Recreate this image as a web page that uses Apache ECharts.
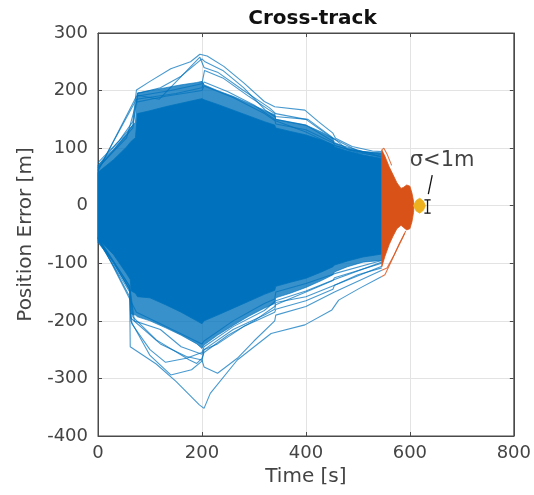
<!DOCTYPE html>
<html><head><meta charset="utf-8">
<script src="https://cdn.jsdelivr.net/npm/echarts@6/dist/echarts.min.js"></script>
<style>html,body{margin:0;padding:0;background:#fff}#c{width:534px;height:495px}</style>
</head><body><div id="c"></div>
<script>
// ---- data ----
const xTicks = [0, 200, 400, 600, 800];
const yTicks = [-400, -300, -200, -100, 0, 100, 200, 300];

// Blue Monte-Carlo runs: envelopes of the dense region
const bandT       = [0, 30, 55, 62, 64, 72, 76, 100, 130, 160, 190, 200, 204, 230, 260, 290, 320, 340, 342, 370, 400, 430, 452, 455, 480, 510, 546];
const denseUpper  = [58, 80, 102, 110, 112, 118, 160, 165, 172, 178, 184, 186, 184, 176, 166, 156, 146, 140, 135, 129, 123, 114, 106, 102, 95, 88, 82];
const denseLower  = [-57, -85, -118, -128, -148, -152, -158, -160, -172, -185, -200, -205, -200, -190, -178, -166, -154, -147, -140, -133, -126, -115, -106, -103, -96, -89, -84];
const spreadUpper = [70, 98, 125, 134, 137, 145, 196, 200, 205, 210, 214, 216, 210, 200, 190, 178, 166, 158, 150, 145, 140, 128, 117, 110, 100, 94, 92];
const spreadLower = [-64, -98, -138, -150, -188, -190, -193, -200, -212, -225, -240, -248, -242, -225, -208, -192, -178, -170, -160, -152, -142, -130, -120, -115, -106, -98, -95];

// Individual outlying blue runs
const runU1T = [0, 40, 67, 74, 100, 140, 178, 196, 210, 242, 281, 320, 340, 398, 424, 452, 457, 489, 528, 546];
const runU1V = [75, 112, 146, 201, 216, 238, 250, 263, 260, 242, 213, 181, 172, 166, 146, 126, 117, 103, 95, 94];
const runU2T = [0, 67, 76, 120, 160, 200, 206, 240, 280, 322, 340, 404, 449, 481, 546];
const runU2V = [70, 140, 195, 205, 225, 255, 250, 235, 205, 166, 155, 150, 120, 97, 90];
const runU3T = [0, 67, 76, 118, 196, 204, 230, 280, 330, 342, 400, 450, 500, 546];
const runU3V = [65, 135, 192, 185, 258, 240, 232, 200, 170, 160, 150, 118, 95, 88];
const runU4T = [0, 74, 140, 200, 205, 240, 290, 340, 342, 400, 452, 455, 500, 546];
const runU4V = [60, 190, 200, 212, 235, 222, 190, 160, 150, 140, 112, 105, 92, 86];
const runU5T = [0, 74, 150, 200, 204, 250, 300, 340, 342, 400, 455, 546];
const runU5V = [62, 185, 195, 205, 215, 198, 175, 150, 142, 132, 108, 85];
const runU6T = [0, 55, 74, 130, 200, 204, 260, 320, 340, 400, 455, 546];
const runU6V = [66, 118, 180, 190, 200, 208, 188, 160, 148, 128, 104, 84];

const runL1T = [0, 30, 61, 62, 112, 150, 195, 204, 216, 268, 333, 398, 450, 463, 502, 546];
const runL1V = [-58, -105, -158, -245, -275, -305, -346, -352, -326, -268, -222, -207, -181, -164, -144, -123];
const runL2T = [0, 61, 63, 100, 140, 180, 200, 204, 230, 280, 340, 342, 400, 452, 455, 500, 546];
const runL2V = [-60, -150, -200, -260, -294, -285, -270, -250, -240, -210, -185, -180, -165, -145, -138, -120, -108];
const runL3T = [0, 61, 63, 120, 170, 200, 204, 230, 268, 300, 340, 342, 400, 455, 546];
const runL3V = [-57, -145, -195, -240, -262, -268, -280, -291, -265, -235, -200, -190, -175, -150, -112];
const runL4T = [0, 61, 67, 112, 176, 190, 200, 204, 250, 300, 340, 342, 400, 455, 546];
const runL4V = [-56, -140, -193, -233, -268, -274, -265, -255, -225, -200, -175, -168, -158, -138, -105];
const runL5T = [0, 61, 70, 120, 160, 200, 204, 260, 320, 340, 342, 400, 452, 455, 546];
const runL5V = [-55, -140, -200, -215, -245, -258, -250, -215, -190, -180, -172, -150, -130, -125, -100];
const runL6T = [0, 61, 65, 100, 130, 170, 200, 204, 260, 320, 342, 400, 455, 546];
const runL6V = [-57, -145, -205, -250, -272, -265, -255, -245, -210, -182, -165, -148, -128, -98];
const runL7T = [0, 74, 120, 200, 204, 260, 320, 340, 342, 400, 455, 546];
const runL7V = [-54, -185, -205, -240, -235, -200, -170, -162, -150, -135, -118, -95];

// Orange phase
const orangeT     = [546, 552, 560, 567, 575, 583, 588, 594, 600, 604, 607, 608];
const orangeUpper = [97, 86, 68, 55, 40, 30, 32, 36, 34, 22, 8, 0];
const orangeLower = [-106, -88, -68, -54, -40, -34, -38, -42, -40, -28, -12, 0];
const runO1T = [546, 552, 565, 580, 590];
const runO1V = [-123, -120, -95, -65, -48];
const runO2T = [546, 556, 570, 585, 592];
const runO2V = [-112, -108, -85, -58, -44];
const runO3T = [546, 550, 556, 565];
const runO3V = [97, 100, 90, 70];

// Yellow final phase
const yellowT     = [607, 612, 619, 626, 630];
const yellowUpper = [0, 9, 13, 8, 0];
const yellowLower = [0, -9, -13, -8, 0];

// sigma error bar and annotation
const errT = 634, errLow = -13, errHigh = 10, errCapHalf = 6;
const noteLineT = [643, 635.5];
const noteLineV = [53, 20];
const noteText = 'σ<1m';
const noteT = 662, noteV = 78;

// ---- chart ----
const BLUE = '#0072BD', ORANGE = '#D95319', YELLOW = '#EDB120';
const FONT = 'DejaVu Sans';
const pairs = (t, v) => t.map((x, i) => [x, v[i]]);

function bandSeries(T, up, lo, color, z) {
  return {
    type: 'custom', z: z, silent: true,
    data: [[T[0], up[0]]],
    renderItem: function (params, api) {
      const pts = [];
      for (let i = 0; i < T.length; i++) pts.push(api.coord([T[i], up[i]]));
      for (let i = T.length - 1; i >= 0; i--) pts.push(api.coord([T[i], lo[i]]));
      return { type: 'polygon', shape: { points: pts }, style: { fill: color, stroke: color, lineWidth: 0.8 } };
    }
  };
}
function lineSeries(t, v, color, w, z) {
  return { type: 'line', data: pairs(t, v), showSymbol: false, silent: true, z: z,
    lineStyle: { color: color, width: w }, animation: false };
}

const chart = echarts.init(document.getElementById('c'), null, { renderer: 'canvas' });
const axisCol = '#4a4a4a';
const series = [
  bandSeries(bandT, spreadUpper, spreadLower, 'rgba(0,114,189,0.78)', 2),
  bandSeries(bandT, denseUpper, denseLower, BLUE, 3),
];
[[runU1T, runU1V], [runU2T, runU2V], [runU3T, runU3V], [runU4T, runU4V], [runU5T, runU5V], [runU6T, runU6V],
 [runL1T, runL1V], [runL2T, runL2V], [runL3T, runL3V], [runL4T, runL4V], [runL5T, runL5V], [runL6T, runL6V], [runL7T, runL7V]]
  .forEach(r => series.push(lineSeries(r[0], r[1], 'rgba(0,114,189,0.72)', 1.1, 4)));
series.push(bandSeries(orangeT, orangeUpper, orangeLower, ORANGE, 5));
[[runO1T, runO1V], [runO2T, runO2V], [runO3T, runO3V]].forEach(r => series.push(lineSeries(r[0], r[1], 'rgba(217,83,25,0.8)', 1.1, 5)));
series.push(bandSeries(yellowT, yellowUpper, yellowLower, YELLOW, 6));
// error bar
series.push(lineSeries([errT, errT], [errLow, errHigh], '#111', 1.3, 7));
series.push(lineSeries([errT - errCapHalf, errT + errCapHalf], [errHigh, errHigh], '#111', 1.3, 7));
series.push(lineSeries([errT - errCapHalf, errT + errCapHalf], [errLow, errLow], '#111', 1.3, 7));
// annotation pointer + text
series.push(lineSeries(noteLineT, noteLineV, '#111', 1.3, 7));
series.push({ type: 'scatter', data: [[noteT, noteV]], symbolSize: 0, silent: true, z: 8,
  label: { show: true, formatter: noteText, position: 'inside', color: '#111', fontSize: 21, fontFamily: FONT } });

const axisCommon = {
  axisLine: { show: true, onZero: false, lineStyle: { color: axisCol } },
  axisTick: { show: true, inside: true, length: 4, lineStyle: { color: axisCol } }
};
chart.setOption({
  animation: false,
  backgroundColor: '#fff',
  title: { text: 'Cross-track', left: 307.5, textAlign: 'center', top: 4,
    textStyle: { fontFamily: FONT, fontSize: 20, fontWeight: 'bold', color: '#111' } },
  grid: { left: 98, right: 17, top: 33, bottom: 59, show: true, borderColor: axisCol, borderWidth: 1, backgroundColor: 'transparent' },
  xAxis: [Object.assign({
    type: 'value', min: 0, max: 800, interval: 200,
    name: 'Time [s]', nameLocation: 'middle', nameGap: 31,
    nameTextStyle: { fontFamily: FONT, fontSize: 20, color: '#444' },
    axisLabel: { fontFamily: FONT, fontSize: 18, color: '#444', margin: 8, formatter: v => xTicks.includes(v) ? String(v) : '' },
    splitLine: { show: true, lineStyle: { color: '#e3e3e3' } }
  }, axisCommon), Object.assign({
    type: 'value', min: 0, max: 800, interval: 200, position: 'top',
    axisLabel: { show: false }, splitLine: { show: false }
  }, axisCommon)],
  yAxis: [Object.assign({
    type: 'value', min: -400, max: 300, interval: 100,
    name: 'Position Error [m]', nameLocation: 'middle', nameGap: 58,
    nameTextStyle: { fontFamily: FONT, fontSize: 20, color: '#444' },
    axisLabel: { fontFamily: FONT, fontSize: 18, color: '#444', margin: 10, formatter: v => yTicks.includes(v) ? String(v) : '' },
    splitLine: { show: true, lineStyle: { color: '#e3e3e3' } }
  }, axisCommon), Object.assign({
    type: 'value', min: -400, max: 300, interval: 100, position: 'right',
    axisLabel: { show: false }, splitLine: { show: false }
  }, axisCommon)],
  series: series
});
</script></body></html>
